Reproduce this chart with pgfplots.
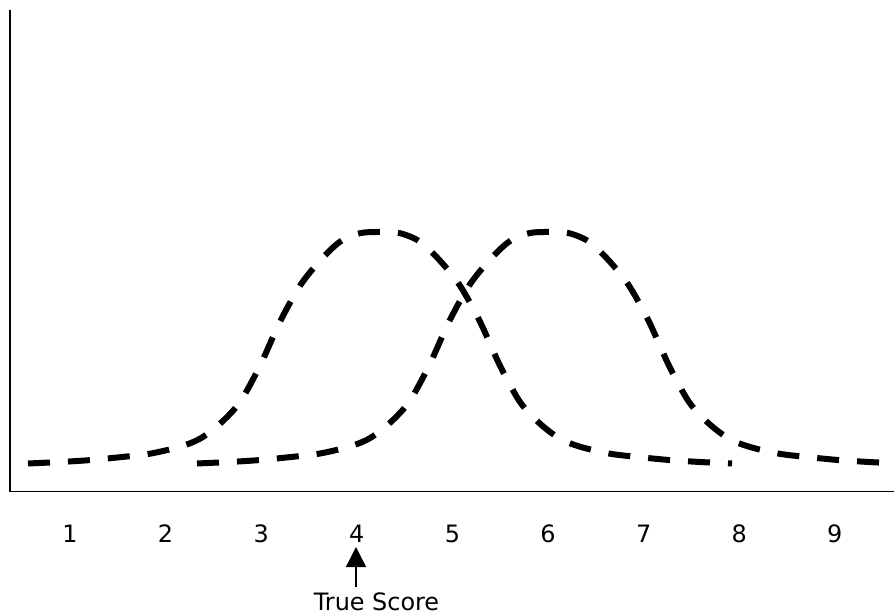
\documentclass[border=0pt]{standalone}
\usepackage{pgfplots}
\pgfplotsset{compat=1.18}
\usepackage{fontspec}
\setmainfont{DejaVu Sans}
\usetikzlibrary{arrows.meta}
\begin{document}
\begin{tikzpicture}
\useasboundingbox (-10bp,-124.3bp) rectangle (884bp,491.7bp);
\begin{axis}[
  scale only axis,
  width=884bp, height=481.7bp,
  xmin=0.3724, xmax=9.619, ymin=0, ymax=4.817,
  axis x line=bottom, axis y line=left,
  axis line style={-, line width=1.3bp, black},
  xtick={1,2,3,4,5,6,7,8,9},
  xticklabels={1,2,3,4,5,6,7,8,9},
  ytick=\empty,
  major tick length=0pt,
  xticklabel style={anchor=base, yshift=-51bp, font=\fontsize{24}{29}\selectfont},
  /pgf/number format/assume math mode=true,
  clip=false,
]
\addplot[black, line width=6bp, dash pattern=on 22bp off 18bp, smooth] coordinates {
(0.5607,0.282) (0.8954,0.297) (1.2092,0.316) (1.5230,0.345) (1.8368,0.38)
(2.1506,0.45) (2.3599,0.53) (2.5691,0.68) (2.7783,0.897) (2.9875,1.26)
(3.1967,1.70) (3.4059,2.06) (3.6151,2.31) (3.8243,2.50) (4.0335,2.585)
(4.2427,2.597)
(4.4519,2.585) (4.6611,2.50) (4.8703,2.31) (5.0795,2.06) (5.2887,1.70)
(5.4979,1.26) (5.7071,0.897) (5.9163,0.68) (6.1255,0.53) (6.3348,0.45)
(6.6486,0.38) (6.9624,0.345) (7.2762,0.316) (7.5900,0.297) (7.9247,0.282)
};
\addplot[black, line width=6bp, dash pattern=on 22bp off 18bp, smooth] coordinates {
(2.3285,0.282) (2.6632,0.297) (2.9770,0.316) (3.2908,0.345) (3.6046,0.38)
(3.9184,0.45) (4.1277,0.53) (4.3369,0.68) (4.5461,0.897) (4.7553,1.26)
(4.9645,1.70) (5.1737,2.06) (5.3829,2.31) (5.5921,2.50) (5.8013,2.585)
(6.0105,2.597)
(6.2197,2.585) (6.4289,2.50) (6.6381,2.31) (6.8473,2.06) (7.0565,1.70)
(7.2657,1.26) (7.4749,0.897) (7.6841,0.68) (7.8933,0.53) (8.1026,0.45)
(8.4164,0.38) (8.7302,0.345) (9.0440,0.316) (9.3578,0.297) (9.6193,0.284)
};
\draw[line width=1.3bp, -{Triangle[length=20bp,width=20bp]}] (axis cs:3.9916,-0.953) -- (axis cs:3.9916,-0.553);
\node[anchor=base, font=\fontsize{24}{29}\selectfont, inner sep=0pt] at (axis cs:4.206,-1.185) {True Score};
\end{axis}
\end{tikzpicture}
\end{document}
